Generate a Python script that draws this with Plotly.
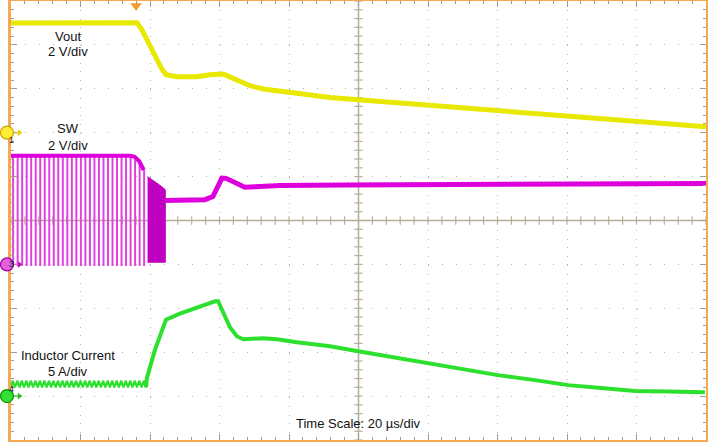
import numpy as np
import plotly.graph_objects as go

# ── Réglages "oscilloscope" ──────────────────────────────────────────────────
T_RANGE = [-36, 164]          # µs, 20 µs/div, déclenchement à t = 0
T_CENTER = 64
DIV_RANGE = [0, 10]

# Vout (CH1, 2 V/div)
VOUT_T = [-36, -20, -6, -1.8, 0.2, 1.6, 3.05, 4.5, 5.9, 7.4, 8.6, 11.7, 17.4,
          21.3, 25.1, 27.0, 29.9, 32.8, 36.6, 41.4, 46.2, 51.0, 55.8, 63.9,
          84.0, 104.0, 124.0, 144.0, 164.0]
VOUT_V = [5.0, 5.0, 5.0, 4.97, 5.01, 4.71, 4.26, 3.73, 3.27, 2.90, 2.64, 2.55,
          2.55, 2.64, 2.67, 2.55, 2.36, 2.14, 1.99, 1.88, 1.79, 1.71, 1.60,
          1.50, 1.26, 1.01, 0.77, 0.53, 0.27]

# SW (CH3, 2 V/div) : impulsions de commutation avant l'arrêt
SW_PULSE_T = [-35.5, -34.2, -32.9, -31.6, -30.3, -29.0, -27.7, -26.4, -25.1,
              -23.8, -22.5, -21.2, -19.9, -18.6, -17.3, -16.0, -14.7, -13.4,
              -12.1, -10.8, -9.5, -8.2, -6.9, -5.6, -4.3, -3.0, -1.7, -0.4,
              0.9, 2.2]
SW_PULSE_HI = [4.95] * 27 + [4.9, 4.7, 4.3]
SW_HIGH = 4.95
SW_LOW = -0.05
PULSE_W = 0.22
# rafale rapide juste avant l'arrêt (enveloppe haute)
SW_BURST_T = [3.3, 4.5, 6.0, 7.3, 8.4]
SW_BURST_TOP = [4.0, 3.85, 3.7, 3.55, 3.4]
SW_BURST_LOW = 0.1
# SW après l'arrêt de la commutation
SW_T = [8.4, 12.0, 16.0, 19.8, 22.1, 23.6, 24.7, 25.9, 28.5, 31.3, 35.7, 41.4,
        60.0, 100.0, 164.0]
SW_V = [2.91, 2.93, 2.92, 2.95, 3.09, 3.6, 3.93, 3.92, 3.7, 3.52, 3.55, 3.6,
        3.62, 3.64, 3.68]

# Courant inductance (CH4, 5 A/div)
IL_RIPPLE_HI = 1.75
IL_RIPPLE_LO = 1.0
IL_T = [3.1, 5.4, 8.6, 12.6, 17.5, 22.7, 23.6, 25.0, 27.0, 29.0, 30.8, 36.5,
        40.5, 46.3, 52.1, 55.8, 63.9, 81.7, 95.5, 104.1, 114.8, 124.3, 133.8,
        143.6, 153.1, 163.7]
IL_A = [2.05, 5.23, 8.71, 9.39, 10.11, 10.8, 10.8, 9.55, 7.84, 6.82, 6.48,
        6.59, 6.48, 6.14, 5.91, 5.68, 5.11, 3.86, 2.95, 2.39, 1.82, 1.25, 0.91,
        0.57, 0.51, 0.45]

# ── Palette ──────────────────────────────────────────────────────────────────
JAUNE = "#E8E800"
MAGENTA = "#DD00DD"
MAGENTA_CLAIR = "#E040E0"
MAGENTA_FONCE = "#C000C0"
VERT = "#2EE02E"
ORANGE = "#F5AA52"
GRILLE = "#B4B4B4"
AXE_CENTRE = "#B8AE9A"
POLICE = "Liberation Sans, Arial, sans-serif"

fig = go.Figure()

# ── Graticule central (graduations) ──────────────────────────────────────────
tx = np.arange(T_RANGE[0], T_RANGE[1] + 0.01, 4.0)
ty = np.arange(0, 10.01, 0.2)
fig.add_trace(go.Scatter(
    x=tx, y=[5] * len(tx), mode="markers",
    marker=dict(symbol="line-ns-open", size=6, color=AXE_CENTRE,
                line=dict(color=AXE_CENTRE, width=1.2)),
    hoverinfo="skip"))
fig.add_trace(go.Scatter(
    x=[T_CENTER] * len(ty), y=ty, mode="markers",
    marker=dict(symbol="line-ew-open", size=6, color=AXE_CENTRE,
                line=dict(color=AXE_CENTRE, width=1.2)),
    hoverinfo="skip"))
fig.add_shape(type="line", x0=T_CENTER, x1=T_CENTER, y0=0, y1=10,
              line=dict(color=AXE_CENTRE, width=1.5), layer="below")
fig.add_shape(type="line", x0=T_RANGE[0], x1=T_RANGE[1], y0=5, y1=5,
              line=dict(color=AXE_CENTRE, width=1.5), layer="below")

# Vout
fig.add_trace(go.Scatter(x=VOUT_T, y=VOUT_V, yaxis="y2", mode="lines",
                         line=dict(color=JAUNE, width=5), hoverinfo="skip"))

# SW : impulsions
xs, ys = [T_RANGE[0]], [SW_HIGH]
for tp, hi in zip(SW_PULSE_T, SW_PULSE_HI):
    xs += [tp, tp, tp + PULSE_W, tp + PULSE_W]
    ys += [hi, SW_LOW, SW_LOW, hi]
fig.add_trace(go.Scatter(x=xs, y=ys, yaxis="y3", mode="lines",
                         line=dict(color=MAGENTA_CLAIR, width=1.2),
                         hoverinfo="skip"))
fig.add_trace(go.Scatter(x=[T_RANGE[0]] + SW_PULSE_T, y=[SW_HIGH] + SW_PULSE_HI,
                         yaxis="y3", mode="lines",
                         line=dict(color=MAGENTA, width=4), hoverinfo="skip"))
# SW : rafale
fig.add_trace(go.Scatter(
    x=SW_BURST_T + SW_BURST_T[::-1],
    y=SW_BURST_TOP + [SW_BURST_LOW] * len(SW_BURST_T),
    yaxis="y3", mode="lines", fill="toself", fillcolor=MAGENTA_FONCE,
    line=dict(color=MAGENTA_FONCE, width=1), hoverinfo="skip"))
# SW : après arrêt
fig.add_trace(go.Scatter(x=SW_T, y=SW_V, yaxis="y3", mode="lines",
                         line=dict(color=MAGENTA, width=5), hoverinfo="skip"))

# Courant inductance : ondulation puis décharge
il_x, il_y = [T_RANGE[0]], [IL_RIPPLE_LO]
for tp in SW_PULSE_T:
    il_x += [tp, tp + 0.66]
    il_y += [IL_RIPPLE_HI, IL_RIPPLE_LO]
fig.add_trace(go.Scatter(x=il_x, y=il_y, yaxis="y4", mode="lines",
                         line=dict(color=VERT, width=2.2), hoverinfo="skip"))
fig.add_trace(go.Scatter(x=[il_x[-1]] + IL_T, y=[il_y[-1]] + IL_A, yaxis="y4",
                         mode="lines", line=dict(color=VERT, width=4),
                         hoverinfo="skip"))

# ── Repères de masse des voies (0 V / 0 A à 7, 4 et 1 div) ───────────────────
REPERES = [("1", 0.7, "#FFEE33", "#C9A400", "#E6D000"),
           ("3", 0.4, "#E060E0", "#A000A0", "#C000C0"),
           ("4", 0.1, "#33E033", "#109010", "#20C020")]
X_ROND = -4 / 695
for label, yp, fond, bord, fleche in REPERES:
    fig.add_trace(go.Scatter(
        x=[T_RANGE[0], -33.4], y=[yp * 10] * 2, mode="lines",
        line=dict(color=fleche, width=1.2), hoverinfo="skip"))
    fig.add_trace(go.Scatter(
        x=[-33.6], y=[yp * 10], mode="markers",
        marker=dict(symbol="triangle-right", size=6, color=fleche),
        hoverinfo="skip"))
    fig.add_shape(type="circle", xref="paper", yref="paper",
                  xsizemode="pixel", ysizemode="pixel",
                  xanchor=X_ROND, yanchor=yp,
                  x0=-6.5, x1=6.5, y0=-6.5, y1=6.5,
                  fillcolor=fond, line=dict(color=bord, width=1.2),
                  layer="above")
    fig.add_annotation(text=label, x=X_ROND, y=yp, xref="paper", yref="paper",
                       showarrow=False,
                       font=dict(family=POLICE, size=9, color="#222"))

# Repère de déclenchement
fig.add_trace(go.Scatter(
    x=[0], y=[9.89], mode="markers", cliponaxis=False,
    marker=dict(symbol="triangle-down", size=10, color="#F39A2C"),
    hoverinfo="skip"))

# ── Textes ───────────────────────────────────────────────────────────────────
TEXTES = [
    ("Vout", -19.6, 9.20),
    ("2 V/div", -19.6, 8.84),
    ("SW", -19.6, 7.09),
    ("2 V/div", -19.6, 6.70),
    ("Inductor Current", -19.7, 1.93),
    ("5 A/div", -19.7, 1.56),
    ("Time Scale: 20 µs/div", T_CENTER, 0.37),
]
for txt, x, y in TEXTES:
    fig.add_annotation(text=txt, x=x, y=y, xref="x", yref="y", showarrow=False,
                       font=dict(family=POLICE, size=13, color="#111"))

# ── Axes & mise en page ──────────────────────────────────────────────────────
fig.update_layout(
    width=708, height=442,
    margin=dict(l=11, r=2, t=1, b=2, autoexpand=False),
    paper_bgcolor="white", plot_bgcolor="white",
    showlegend=False,
    xaxis=dict(range=T_RANGE, tick0=T_RANGE[0], dtick=20, showticklabels=False,
               ticks="inside", ticklen=6, tickcolor="#A49C8E", tickwidth=1,
               minor=dict(dtick=4, ticks="inside", ticklen=3,
                          tickcolor="#A49C8E", showgrid=False),
               showgrid=True, gridcolor=GRILLE, gridwidth=1,
               griddash="1px,7.8px",
               showline=True, linecolor=ORANGE, linewidth=3, mirror="ticks",
               zeroline=False, fixedrange=True),
    yaxis=dict(range=DIV_RANGE, tick0=0, dtick=1, showticklabels=False,
               ticks="inside", ticklen=6, tickcolor="#A49C8E", tickwidth=1,
               minor=dict(dtick=0.2, ticks="inside", ticklen=3,
                          tickcolor="#A49C8E", showgrid=False),
               showgrid=True, gridcolor=GRILLE, gridwidth=1,
               griddash="1px,12.9px",
               showline=True, linecolor=ORANGE, linewidth=3, mirror="ticks",
               zeroline=False, fixedrange=True),
    yaxis2=dict(range=[-14, 6], overlaying="y", visible=False),
    yaxis3=dict(range=[-8, 12], overlaying="y", visible=False),
    yaxis4=dict(range=[-5, 45], overlaying="y", visible=False),
)

# la page HTML ajoute une marge de 8 px autour du graphique : on la supprime
fig.write_html("out.html", config={"displayModeBar": False},
               post_script="document.body.style.margin = '0';")
